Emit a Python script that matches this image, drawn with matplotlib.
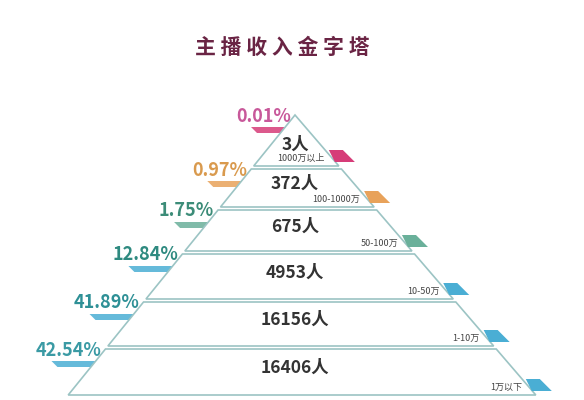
"""Anchor income pyramid."""
import matplotlib.pyplot as plt
from matplotlib.patches import Polygon

plt.rcParams['font.family'] = ['Noto Sans CJK SC', 'DejaVu Sans']

title = "主播收入金字塔"
counts = [3, 372, 675, 4953, 16156, 16406]
percents = ["0.01%", "0.97%", "1.75%", "12.84%", "41.89%", "42.54%"]
ranges = ["1000万以上", "100-1000万", "50-100万", "10-50万", "1-10万", "1万以下"]
text_colors = ["#c8589a", "#d99a4e", "#3c8c78", "#2e8a80", "#2e9096", "#3a9aa4"]
tag_colors = ["#d63c78", "#e8a25a", "#6ab09a", "#4aaed4", "#4aaed4", "#4aaed4"]

# layer boundaries in pixel rows
tops = [115, 169, 210, 254, 302, 349]
bottoms = [166, 207, 251, 299, 346, 395]
apex_x = 295
sl, sr = 0.81, 0.86

fig = plt.figure(figsize=(5.84, 4.0), dpi=100)
ax = fig.add_axes([0, 0, 1, 1])
ax.set_xlim(0, 584)
ax.set_ylim(400, 0)
ax.axis('off')

ax.text(282, 47, " ".join(title), ha='center', va='center', fontsize=15,
        fontweight='bold', color='#6a2444')
edge = '#9cc4c4'

for i in range(len(counts)):
    t, b = tops[i], bottoms[i]
    lt, rt = apex_x - sl * (t - 115), apex_x + sr * (t - 115)
    lb, rb = apex_x - sl * (b - 115), apex_x + sr * (b - 115)
    ax.add_patch(Polygon([(lt, t), (rt, t), (rb, b), (lb, b)], closed=True,
                         fc='white', ec=edge, lw=1.2))
    mid = (t + b) / 2
    ax.text(apex_x, mid + (4 if i == 0 else -4), f"{counts[i]}人", ha='center',
            va='center', fontsize=12.5, fontweight='bold', color='#333333')
    # range label and right tag
    ax.text(rb - 14, b - 8, ranges[i], ha='right', va='center',
            fontsize=6.5, color='#444444')
    tw = 14
    ax.add_patch(Polygon([(rb - 10, b - 16), (rb - 10 + tw, b - 16),
                          (rb + tw + 2, b - 4), (rb - 4, b - 4)], closed=True,
                         fc=tag_colors[i], ec='none'))
    # percent label with underline
    px = lt - 4
    ax.text(px, t + 1, percents[i], ha='right', va='center', fontsize=13,
            fontweight='bold', color=text_colors[i])
    w = 10 * len(percents[i])
    ax.add_patch(Polygon([(px - w + 10, t + 12), (px + 2, t + 12),
                          (px + 4, t + 18), (px - w + 16, t + 18)], closed=True,
                         fc=tag_colors[i], ec='none', alpha=0.85, zorder=0))

fig.savefig("out.png", dpi=100)
